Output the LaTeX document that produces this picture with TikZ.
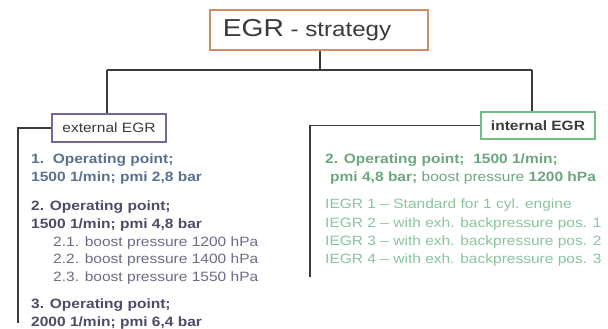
\documentclass[tikz,border=0pt]{standalone}
\usepackage{fontspec}
\setmainfont[FakeStretch=1.15]{Liberation Sans}
\definecolor{topc}{HTML}{D08C6C}
\definecolor{extc}{HTML}{6B6B9B}
\definecolor{intc}{HTML}{6FBF85}
\definecolor{darkt}{HTML}{3A3A3A}
\definecolor{blueA}{HTML}{56728F}
\definecolor{slateA}{HTML}{4A4C68}
\definecolor{slateB}{HTML}{6A6C86}
\definecolor{greenA}{HTML}{6BA67E}
\definecolor{greenB}{HTML}{88C49C}
\begin{document}
\begin{tikzpicture}[x=1pt,y=-1pt,
  conn/.style={draw=darkt, line width=1.6pt},
  boxs/.style={draw, line width=1.8pt, fill=white, inner sep=0pt, text=darkt},
  txt/.style={anchor=base west, inner sep=0pt, font=\fontsize{13.5}{16}\selectfont},
  ]
\useasboundingbox (0,0) rectangle (608,329);
% boxes
\node[boxs, draw=topc, minimum width=218pt, minimum height=40pt] (top) at (319,30)
  {\fontsize{24.5}{28}\selectfont EGR\fontsize{21}{24}\selectfont{} - strategy\hspace*{24pt}};
\node[boxs, draw=extc, minimum width=114pt, minimum height=28pt,
  font=\fontsize{13.5}{16}\selectfont] (ext) at (109,128) {external EGR};
\node[boxs, draw=intc, minimum width=114pt, minimum height=27pt,
  font=\fontsize{13.5}{16}\selectfont\bfseries] (int) at (538,125.5) {internal EGR};
% junctions
\coordinate (j) at (320,70);
\coordinate (jl) at (107,70);
\coordinate (jr) at (532,70);
\coordinate (lb) at (18,323);
\coordinate (rb) at (310,277);
\draw[conn] (top.south -| j) -- (j);
\draw[conn] (jl) -- (jr);
\draw[conn] (jl) -- (jl |- ext.north);
\draw[conn] (jr) -- (jr |- int.north);
\draw[conn] (ext.west) -| (lb);
\draw[conn] (int.west) -| (rb);
% left texts
\node[txt, text=blueA, font=\fontsize{13.5}{16}\selectfont\bfseries] (l1) at (31,163) {1.\ \ Operating point;};
\node[txt, text=blueA, font=\fontsize{13.5}{16}\selectfont\bfseries] (l2) at (31,181) {1500 1/min; pmi 2,8 bar};
\node[txt, text=slateA, font=\fontsize{13.5}{16}\selectfont\bfseries] (l3) at (31,210) {2. Operating point;};
\node[txt, text=slateA, font=\fontsize{13.5}{16}\selectfont\bfseries] (l4) at (31,228) {1500 1/min; pmi 4,8 bar};
\node[txt, text=slateB] (l5) at (53,246) {2.1. boost pressure 1200 hPa};
\node[txt, text=slateB] (l6) at (53,263) {2.2. boost pressure 1400 hPa};
\node[txt, text=slateB] (l7) at (53,281) {2.3. boost pressure 1550 hPa};
\node[txt, text=slateA, font=\fontsize{13.5}{16}\selectfont\bfseries] (l8) at (31,308) {3. Operating point;};
\node[txt, text=slateA, font=\fontsize{13.5}{16}\selectfont\bfseries] (l9) at (31,326) {2000 1/min; pmi 6,4 bar};
% right texts
\node[txt, text=greenA, font=\fontsize{13.5}{16}\selectfont\bfseries] (r1) at (325,163) {2. Operating point;\ \ 1500 1/min;};
\node[txt, text=greenA] (r2) at (330,181) {\textbf{pmi 4,8 bar;} boost pressure \textbf{1200 hPa}};
\node[txt, text=greenB] (r3) at (325,208) {IEGR 1 – Standard for 1 cyl. engine};
\node[txt, text=greenB] (r4) at (325,227) {IEGR 2 – with exh. backpressure pos. 1};
\node[txt, text=greenB] (r5) at (325,245) {IEGR 3 – with exh. backpressure pos. 2};
\node[txt, text=greenB] (r6) at (325,263) {IEGR 4 – with exh. backpressure pos. 3};
\end{tikzpicture}
\end{document}
